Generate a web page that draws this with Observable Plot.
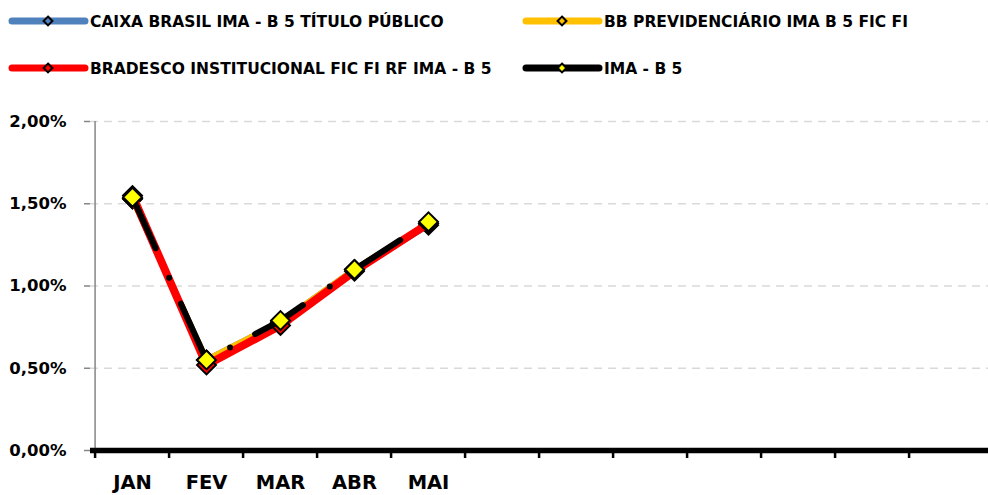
<!DOCTYPE html>
<html>
<head>
<meta charset="utf-8">
<script src="https://cdn.jsdelivr.net/npm/d3@7"></script>
<script src="https://cdn.jsdelivr.net/npm/@observablehq/plot@0.6"></script>
<style>
  html, body { margin: 0; padding: 0; background: #fff; }
  #wrap { width: 988px; height: 495px; position: relative; overflow: hidden; font-family: "DejaVu Sans", sans-serif; }
  #legend { display: block; }
  #chart svg { display: block; }
</style>
</head>
<body>
<div id="wrap">
  <svg id="legend" width="988" height="100"></svg>
  <div id="chart"></div>
</div>
<script>
// ---- data ----
const months = ["JAN", "FEV", "MAR", "ABR", "MAI", "JUN", "JUL", "AGO", "SET", "OUT", "NOV", "DEZ"];
const shownLabels = ["JAN", "FEV", "MAR", "ABR", "MAI"];
const seriesNames = [
  "CAIXA BRASIL IMA - B 5 TÍTULO PÚBLICO",
  "BB PREVIDENCIÁRIO IMA B 5 FIC FI",
  "BRADESCO INSTITUCIONAL FIC FI RF IMA - B 5",
  "IMA - B 5"
];
const caixa    = [1.53, 0.55, 0.78, 1.10, 1.37];
const bb       = [1.53, 0.55, 0.78, 1.10, 1.38];
const bradesco = [1.55, 0.52, 0.76, 1.09, 1.38];
const imab5    = [1.54, 0.55, 0.79, 1.10, 1.39];
const yTicks = [0, 0.5, 1, 1.5, 2];

// ---- styles ----
const colors = ["#4F81BD", "#FFC000", "#FF0000", "#000000"];
const markerFill = ["#4F81BD", "#FFC000", "#FF0000", "#FFFF00"];
const widths = [6, 6, 8, 6];
const FONT = '"DejaVu Sans", sans-serif';

const allSeries = [caixa, bb, bradesco, imab5];
const rows = [];
allSeries.forEach((vals, s) => vals.forEach((v, i) => rows.push({series: seriesNames[s], s, month: months[i], value: v})));

const W = 988, H = 395, ML = 90, MR = 0, MT = 21, MB = 45;
const step = (W - ML - MR) / months.length;
const fmtPct = d => d.toFixed(2).replace(".", ",") + "%";

const marks = [
  Plot.gridY(yTicks.filter(d => d > 0), {stroke: "#d9d9d9", strokeOpacity: 1, strokeWidth: 1.5, strokeDasharray: "8,6"}),
  Plot.ruleX([months[0]], {dx: -step / 2, y1: 0, y2: 2, stroke: "#868686", strokeWidth: 1.5}),
  Plot.axisY({ticks: yTicks, tickFormat: fmtPct, tickSize: 6, tickPadding: 18, stroke: "#868686", strokeWidth: 1.5,
    label: null, fill: "#000", fontSize: 16.5, fontWeight: "bold", fontFamily: FONT}),
];
allSeries.forEach((vals, s) => {
  const data = rows.filter(r => r.s === s);
  marks.push(Plot.line(data, {x: "month", y: "value", stroke: colors[s], strokeWidth: widths[s],
    strokeLinejoin: "round", strokeLinecap: "round",
    strokeDasharray: s === 3 ? "56,32.6,0,28.4" : null}));
  marks.push(Plot.dot(data, {x: "month", y: "value", symbol: "diamond2", r: 8.5, fill: markerFill[s], stroke: "#000", strokeWidth: 2}));
});
marks.push(
  Plot.ruleY([0], {stroke: "#000", strokeWidth: 5.5}),
  Plot.axisX({tickSize: 8, dx: -step / 2, tickFormat: () => "", label: null, stroke: "#000", strokeWidth: 2.5}),
  Plot.axisX({tickSize: 0, tickPadding: 25, tickFormat: d => shownLabels.includes(d) ? d : "", label: null,
    fill: "#000", fontSize: 19.5, fontWeight: "bold", fontFamily: FONT})
);

const chart = Plot.plot({
  width: W, height: H, marginTop: MT, marginBottom: MB, marginLeft: ML, marginRight: MR,
  style: {fontFamily: FONT, background: "#fff", overflow: "visible"},
  x: {type: "point", domain: months, padding: 0.5, axis: null, label: null},
  y: {domain: [0, 2], axis: null, label: null},
  marks
});
document.getElementById("chart").appendChild(chart);

// ---- legend ----
const leg = d3.select("#legend");
const legPos = [[12, 21], [526, 21], [12, 68], [526, 68]];
seriesNames.forEach((name, s) => {
  const [x, y] = legPos[s];
  const g = leg.append("g").attr("transform", `translate(${x},${y})`);
  g.append("line").attr("x1", 0).attr("x2", 73).attr("y1", 0).attr("y2", 0)
    .attr("stroke", colors[s]).attr("stroke-width", 7).attr("stroke-linecap", "round");
  g.append("path").attr("d", d3.symbol(d3.symbolDiamond2, 50)()).attr("transform", "translate(36,0)")
    .attr("fill", markerFill[s]).attr("stroke", "#000").attr("stroke-width", 2);
  g.append("text").attr("x", 78).attr("y", 0).attr("dy", "0.36em")
    .attr("font-family", FONT).attr("font-weight", "bold").attr("font-size", 15.5).attr("fill", "#000")
    .text(name);
});
</script>
</body>
</html>
